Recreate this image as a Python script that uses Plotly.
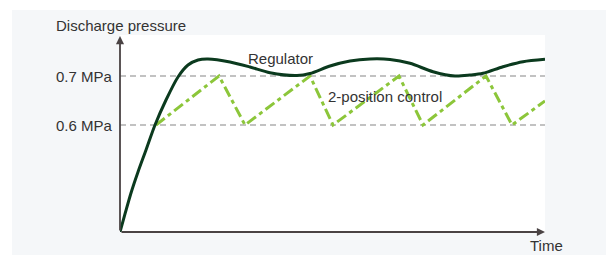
import plotly.graph_objects as go

# Regulator response (time units, pressure MPa)
reg_time = [0, 5, 11, 18, 26, 35, 46, 58, 68, 78, 88, 110, 130, 150, 177, 190, 210,
            230, 250, 270, 290, 313, 335, 350, 363, 383, 403, 425]
reg_pressure = [0.3816, 0.4184, 0.4612, 0.5041, 0.549, 0.600, 0.651, 0.698, 0.7224,
                0.7327, 0.7347, 0.7286, 0.7184, 0.7067, 0.701, 0.7051, 0.7204, 0.7306,
                0.7347, 0.7337, 0.7259, 0.7088, 0.700, 0.702, 0.7055, 0.719, 0.7292, 0.7341]

# 2-position control (sawtooth between 0.6 and 0.7 MPa)
two_time = [36, 99, 125, 190, 213, 279, 303, 366, 392, 425]
two_pressure = [0.6, 0.7, 0.6, 0.7, 0.6, 0.7, 0.6, 0.7, 0.6, 0.649]

ref_levels = [0.6, 0.7]
ref_labels = ["0.6 MPa", "0.7 MPa"]

X_MAX = 425
Y_MIN, Y_MAX = 0.3816, 0.7837
Y_TIP = 0.7816

FONT = "Liberation Sans, Arial, sans-serif"
TXT = "#333333"
AXC = "#4a4344"

# page body has an 8px margin; the figure is sized/offset to compensate
OFF = 8
W, H = 614 - OFF, 255 - OFF
L, T, PW, PH = 120 - OFF, 35 - OFF, 425, 197


def px(X):
    return (X - 120) / PW


def py(Y):
    return (232 - Y) / PH


fig = go.Figure()
fig.add_trace(go.Scatter(x=two_time, y=two_pressure, mode="lines",
                         line=dict(color="#8cc63a", width=3, dash="11px,4px,4px,4px"),
                         hoverinfo="skip"))
fig.add_trace(go.Scatter(x=reg_time, y=reg_pressure, mode="lines",
                         line=dict(color="#0b3a1e", width=3, shape="spline", smoothing=0.8),
                         hoverinfo="skip"))

shapes = []
shapes.append(dict(type="rect", xref="paper", yref="paper",
                   x0=px(0), x1=px(700), y0=py(10), y1=py(-20),
                   fillcolor="white", line=dict(width=0), layer="below"))
shapes.append(dict(type="rect", xref="paper", yref="paper",
                   x0=px(-20), x1=px(12), y0=py(300), y1=py(-20),
                   fillcolor="white", line=dict(width=0), layer="below"))
for lv in ref_levels:
    shapes.append(dict(type="line", xref="x", yref="y", x0=0, x1=X_MAX, y0=lv, y1=lv,
                       line=dict(color="#858585", width=1.2, dash="6px,4px"), layer="below"))

annotations = []
annotations.append(dict(x=0, y=Y_TIP, ax=0, ay=Y_MIN, xref="x", yref="y", axref="x", ayref="y",
                        text="", showarrow=True, arrowhead=2, arrowsize=0.9, arrowwidth=1.8,
                        arrowcolor=AXC))
annotations.append(dict(x=X_MAX, y=Y_MIN, ax=0, ay=Y_MIN, xref="x", yref="y", axref="x", ayref="y",
                        text="", showarrow=True, arrowhead=2, arrowsize=0.9, arrowwidth=1.8,
                        arrowcolor=AXC))
for lv, lab in zip(ref_levels, ref_labels):
    annotations.append(dict(x=0, y=lv, xref="x", yref="y", text=lab, showarrow=False,
                            xanchor="right", yanchor="middle", xshift=-5,
                            font=dict(family=FONT, size=15, color=TXT)))
annotations.append(dict(x=px(54), y=py(25), xref="paper", yref="paper", text="Discharge pressure",
                        showarrow=False, xanchor="left", yanchor="middle",
                        font=dict(family=FONT, size=15, color=TXT)))
annotations.append(dict(x=160, y=0.7357, xref="x", yref="y", text="Regulator",
                        showarrow=False, xanchor="center", yanchor="middle",
                        font=dict(family=FONT, size=15, color=TXT)))
annotations.append(dict(x=264.5, y=0.6582, xref="x", yref="y", text="2-position control",
                        showarrow=False, xanchor="center", yanchor="middle",
                        font=dict(family=FONT, size=15, color=TXT)))
annotations.append(dict(x=px(546), y=py(245.5), xref="paper", yref="paper", text="Time",
                        showarrow=False, xanchor="center", yanchor="middle",
                        font=dict(family=FONT, size=15, color=TXT)))

fig.update_layout(
    width=W, height=H,
    margin=dict(l=L, r=W - L - PW, t=T, b=H - T - PH, pad=0),
    paper_bgcolor="#f5f7f9", plot_bgcolor="white",
    showlegend=False,
    shapes=shapes, annotations=annotations,
    xaxis=dict(range=[0, X_MAX], visible=False, fixedrange=True),
    yaxis=dict(range=[Y_MIN, Y_MAX], visible=False, fixedrange=True),
)

fig.write_html("out.html", config={"displayModeBar": False})
